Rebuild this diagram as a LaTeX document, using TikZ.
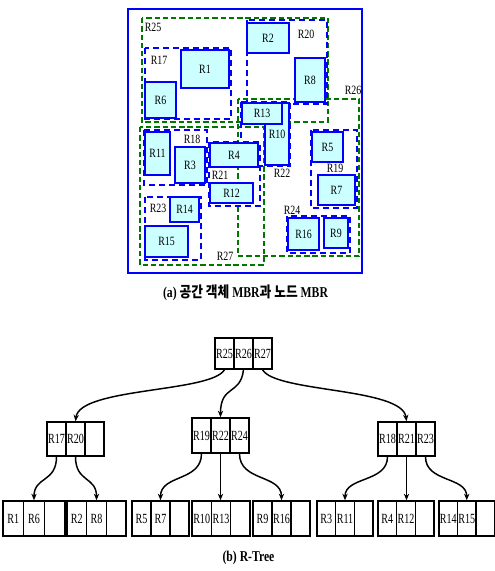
\documentclass[tikz,border=0pt]{standalone}
\usepackage{fontspec}
\setmainfont{Liberation Serif}
\newfontfamily\lblf[FakeStretch=0.78]{Liberation Serif}
\newfontfamily\trf[FakeStretch=0.72]{Liberation Serif}
\newfontfamily\capf[FakeStretch=0.78]{Liberation Serif}
\newfontfamily\krf[FakeStretch=0.85]{Noto Sans CJK KR}
\usetikzlibrary{arrows.meta}
\definecolor{objfill}{RGB}{204,255,255}
\definecolor{mbrgreen}{RGB}{0,120,0}
\definecolor{mbrblue}{RGB}{0,0,255}
\tikzset{
 objbox/.style={draw=mbrblue, fill=objfill, line width=1.5pt},
 leafmbr/.style={draw=mbrblue, dash pattern=on 4.5pt off 3pt, line width=1.2pt},
 nodembr/.style={draw=mbrgreen, dash pattern=on 4pt off 2.2pt, line width=1.9pt},
 lbl/.style={font=\lblf\fontsize{9.5}{10}\selectfont, inner sep=0pt},
 cell/.style={draw, line width=1pt, minimum width=#1, inner sep=0pt, font=\trf\fontsize{10.5}{11}\selectfont},
 arr/.style={-{Stealth[length=5pt,width=4pt]}, line width=1.1pt},
 capt/.style={inner sep=0pt, font=\capf\bfseries\fontsize{11.25}{13}\selectfont},
}
\newcommand\objr[5]{\draw[objbox] (#2,#3) rectangle (#4,#5);
  \node[lbl] (#1) at ({(#2+#4)/2},{(#3+#5)/2}) {#1};}
\newcommand\mbrbox[5]{\draw[#1] (#2,#3) rectangle (#4,#5);}
% prefix, xstart, ycenter, cellw(px), height(px), l1, l2, l3
\newcommand\tnode[8]{%
  \node[cell={#4*0.75pt}, minimum height={#5*0.75pt}] (#1a) at ({#2+#4/2},#3) {#6};
  \node[cell={#4*0.75pt}, minimum height={#5*0.75pt}] (#1b) at ({#2+1.5*#4},#3) {#7};
  \node[cell={#4*0.75pt}, minimum height={#5*0.75pt}] (#1c) at ({#2+2.5*#4},#3) {#8};}
\begin{document}
\begin{tikzpicture}[x=0.75pt,y=-0.75pt]
\useasboundingbox (0,0) rectangle (495,571);
% ---------- (a) ----------
\draw[draw=mbrblue, line width=1.3pt] (128,9) rectangle (362,273);
\mbrbox{nodembr}{142}{18}{328}{122}
\mbrbox{nodembr}{238}{99}{359}{256}
\mbrbox{nodembr}{140}{127}{264}{265}
\mbrbox{leafmbr}{145}{48}{231}{119}
\mbrbox{leafmbr}{247}{20}{327}{104}
\mbrbox{leafmbr}{241}{102}{290}{166}
\mbrbox{leafmbr}{144}{130}{207}{185}
\mbrbox{leafmbr}{209}{142}{260}{206}
\mbrbox{leafmbr}{145}{197}{201}{260}
\mbrbox{leafmbr}{311}{130}{357}{208}
\mbrbox{leafmbr}{287}{216}{350}{253}
\objr{R1}{181}{50}{229}{88}
\objr{R6}{145}{82}{176}{118}
\objr{R2}{247}{23}{289}{53}
\objr{R8}{295}{58}{325}{102}
\objr{R10}{265}{103}{289}{165}
\objr{R13}{242}{103}{282}{124}
\objr{R11}{145}{132}{170}{175}
\objr{R3}{175}{147}{205}{183}
\objr{R4}{210}{143}{258}{167}
\objr{R12}{210}{183}{253}{203}
\objr{R14}{170}{197}{199}{222}
\objr{R15}{145}{226}{188}{257}
\objr{R5}{312}{132}{343}{162}
\objr{R7}{318}{175}{355}{205}
\objr{R16}{288}{218}{319}{250}
\objr{R9}{324}{218}{348}{248}
\node[lbl] (m25) at (153,27) {R25};
\node[lbl] (m17) at (159,60) {R17};
\node[lbl] (m20) at (306,34) {R20};
\node[lbl] (m26) at (353,90) {R26};
\node[lbl] (m18) at (192,139) {R18};
\node[lbl] (m21) at (220,175) {R21};
\node[lbl] (m23) at (158,208) {R23};
\node[lbl] (m27) at (225,256) {R27};
\node[lbl] (m22) at (282,173) {R22};
\node[lbl] (m19) at (335,168) {R19};
\node[lbl] (m24) at (292,210) {R24};
\node[capt] (capa) at (245.5,293) {(a) {\krf 공간 객체} MBR{\krf 과 노드} MBR};
% ---------- (b) ----------
\tnode{rt}{215}{353.5}{19}{31}{R25}{R26}{R27}
\tnode{na}{47}{439}{19}{34}{R17}{R20}{}
\tnode{nb}{192}{435.5}{19}{35}{R19}{R22}{R24}
\tnode{nc}{378}{439}{19}{34}{R18}{R21}{R23}
\tnode{la}{3}{518.5}{20.67}{35}{R1}{R6}{}
\tnode{lb}{67}{518.5}{19.67}{35}{R2}{R8}{}
\tnode{lc}{132}{518.5}{19}{35}{R5}{R7}{}
\tnode{ld}{192}{518.5}{19.33}{35}{R10}{R13}{}
\tnode{le}{253}{518.5}{19}{35}{R9}{R16}{}
\tnode{lf}{317}{518.5}{18.67}{35}{R3}{R11}{}
\tnode{lg}{378}{518.5}{18.67}{35}{R4}{R12}{}
\tnode{lh}{439}{518.5}{18.5}{35}{R14}{R15}{}
\draw[arr] (rta.south) .. controls +(-13,23) and +(4,-34) .. (nab.north);
\draw[arr] (rtb.south) .. controls +(-3,26) and +(0,-33) .. (nbb.north);
\draw[arr] (rtc.south) .. controls +(13,23) and +(-4,-34) .. (ncb.north);
\draw[arr] (naa.south) .. controls +(0,26) and +(0,-24) .. (lab.north);
\draw[arr] (nab.south) .. controls +(0,26) and +(0,-24) .. (lbb.north);
\draw[arr] (nba.south) .. controls +(0,28) and +(0,-26) .. (lcb.north);
\draw[arr] (nbb.south) -- (nbb.south |- ldb.north);
\draw[arr] (nbc.south) .. controls +(0,28) and +(0,-26) .. (leb.north);
\draw[arr] (nca.south) .. controls +(0,26) and +(0,-24) .. (lfb.north);
\draw[arr] (ncb.south) -- (ncb.south |- lgb.north);
\draw[arr] (ncc.south) .. controls +(0,26) and +(0,-24) .. (lhb.north);
\node[capt] (capb) at (248.5,558) {(b) R-Tree};
\end{tikzpicture}
\end{document}
